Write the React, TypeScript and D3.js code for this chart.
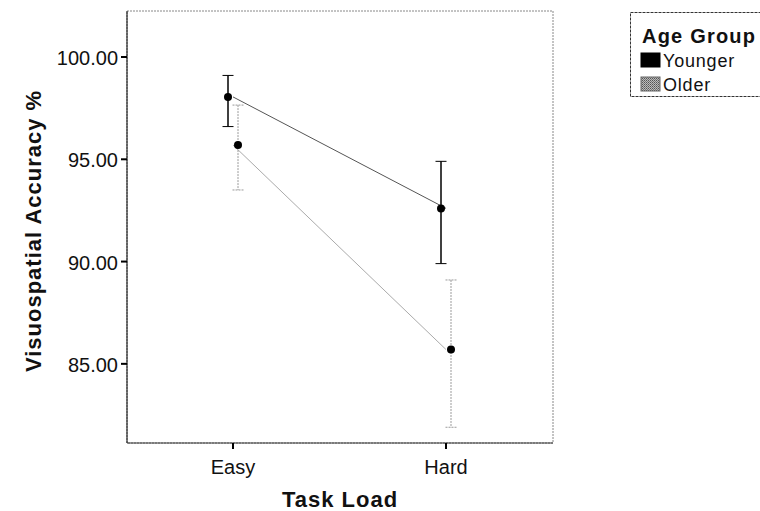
import React from "react";
import * as d3 from "d3";

const categories = ["Easy", "Hard"];
const groups = ["Younger", "Older"];
const means = [
  [98.05, 92.6],
  [95.7, 85.7],
];
const upper = [
  [99.1, 94.9],
  [97.65, 89.1],
];
const lower = [
  [96.6, 89.9],
  [93.5, 81.9],
];
const yTicks = [85, 90, 95, 100];

const width = 760;
const height = 511;
const plot = { left: 127, top: 11, right: 553, bottom: 443 };
const font = "Arial, 'Liberation Sans', Helvetica, sans-serif";

const colors = ["#000000", "#9a9a9a"];
const lineColors = ["#555555", "#aaaaaa"];

const x = d3.scalePoint().domain(categories).range([233, 446]);
const y = d3.scaleLinear().domain([81.13, 102.25]).range([plot.bottom, plot.top]);
const dodge = [-5, 5];

const App = () => {
  const line = d3
    .line<number>()
    .x((_, i) => x(categories[i])!)
    .y((d) => y(d));

  return (
    <svg width={width} height={height} style={{ position: "absolute", left: 0, top: 0, background: "#fff" }}>
      <defs>
        <pattern id="grain" width="2" height="2" patternUnits="userSpaceOnUse">
          <rect width="2" height="2" fill="#bbb" />
          <rect width="1" height="1" fill="#555" />
          <rect x="1" y="1" width="1" height="1" fill="#777" />
        </pattern>
      </defs>
      <rect
        x={plot.left}
        y={plot.top}
        width={plot.right - plot.left}
        height={plot.bottom - plot.top}
        fill="none"
        stroke="#888"
        strokeDasharray="2 1"
        strokeWidth={1}
      />
      <line x1={plot.left} x2={plot.left} y1={plot.top} y2={plot.bottom} stroke="#000" />
      <line x1={plot.left} x2={plot.right} y1={plot.bottom} y2={plot.bottom} stroke="#333" />

      {yTicks.map((t) => (
        <g key={t}>
          <line x1={plot.left - 6} x2={plot.left} y1={y(t)} y2={y(t)} stroke="#000" strokeWidth={2} />
          <text x={plot.left - 9} y={y(t) + 8} textAnchor="end" fontFamily={font} fontSize={20} fill="#111">
            {d3.format(".2f")(t)}
          </text>
        </g>
      ))}
      {categories.map((c) => (
        <g key={c}>
          <line x1={x(c)} x2={x(c)} y1={plot.bottom} y2={plot.bottom + 6} stroke="#000" strokeWidth={2} />
          <text x={x(c)} y={474} textAnchor="middle" fontFamily={font} fontSize={20} fill="#111">
            {c}
          </text>
        </g>
      ))}

      <text
        transform={`translate(41, ${231}) rotate(-90)`}
        textAnchor="middle"
        fontFamily={font}
        fontSize={22}
        fontWeight="bold"
        letterSpacing={1}
        fill="#111"
      >
        Visuospatial Accuracy %
      </text>
      <text
        x={340}
        y={507}
        textAnchor="middle"
        fontFamily={font}
        fontSize={22}
        fontWeight="bold"
        letterSpacing={1}
        fill="#111"
      >
        Task Load
      </text>

      {groups.map((g, gi) => (
        <g key={g}>
          <path d={line(means[gi])!} fill="none" stroke={lineColors[gi]} strokeWidth={1} />
          {categories.map((c, ci) => {
            const cx = x(c)! + dodge[gi];
            const dash = gi === 1 ? "2 1" : undefined;
            return (
              <g key={c}>
                <line
                  x1={cx}
                  x2={cx}
                  y1={y(upper[gi][ci])}
                  y2={y(lower[gi][ci])}
                  stroke={colors[gi]}
                  strokeWidth={gi === 0 ? 1.5 : 1}
                  strokeDasharray={dash}
                />
                {[upper[gi][ci], lower[gi][ci]].map((v, k) => (
                  <line
                    key={k}
                    x1={cx - 5.5}
                    x2={cx + 5.5}
                    y1={y(v)}
                    y2={y(v)}
                    stroke={colors[gi]}
                    strokeWidth={1}
                    strokeDasharray={dash}
                  />
                ))}
                <circle cx={cx} cy={y(means[gi][ci])} r={4} fill="#000" />
              </g>
            );
          })}
        </g>
      ))}

      <rect x={630.5} y={12.5} width={140} height={84} fill="#fff" stroke="#333" strokeDasharray="3 1" />
      <text x={642} y={43} fontFamily={font} fontSize={20} fontWeight="bold" letterSpacing={1.2} fill="#111">
        Age Group
      </text>
      {groups.map((g, gi) => (
        <g key={g}>
          <rect
            x={641}
            y={53 + gi * 24}
            width={19}
            height={14}
            fill={gi === 0 ? "#000" : "url(#grain)"}
            stroke={gi === 0 ? "#000" : "#666"}
          />
          <text x={663} y={67 + gi * 24} fontFamily={font} fontSize={18} letterSpacing={0.8} fill="#111">
            {g}
          </text>
        </g>
      ))}
    </svg>
  );
};

export default App;
